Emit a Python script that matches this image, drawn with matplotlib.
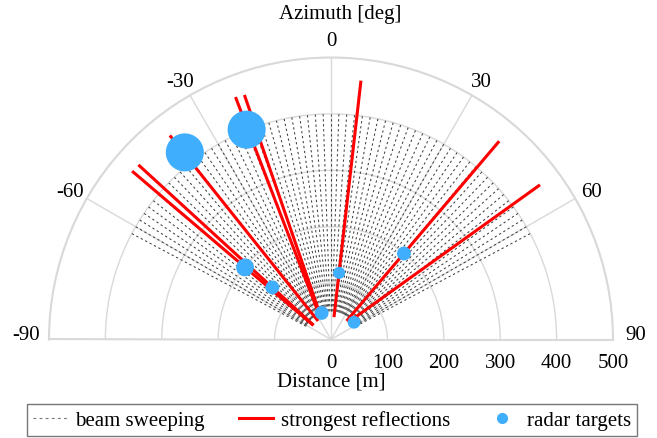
import numpy as np
import matplotlib
matplotlib.use("Agg")
from matplotlib import pyplot as plt
from matplotlib.lines import Line2D

plt.rcParams['font.family'] = ['Liberation Serif', 'DejaVu Serif']
plt.rcParams['font.size'] = 15

# beam sweeping directions (deg) and range (m)
beamAngles = [-62, -60, -58, -56, -54, -52, -50, -48, -46, -44, -42, -40, -38,
              -36, -34, -32, -30, -28, -26, -24, -22, -20, -18, -16, -14, -12,
              -10, -8, -6, -4, -2, 0, 2, 4, 6, 8, 10, 12, 14, 16, 18, 20, 22,
              24, 26, 28, 30, 32, 34, 36, 38, 40, 42, 44, 46, 48, 50, 52, 54,
              56, 58, 60, 62]
beamStart = 50
beamEnd = 400

# strongest reflections: start (angle, dist) -> end (angle, dist)
reflAngleStart = [-51.5, -50.5, -35.0, -26.0, -24.0, 7.6, 40.0, 45.0]
reflDistStart = [40, 40, 40, 44, 44, 40, 43, 43]
reflAngleEnd = [-49.75, -47.8, -38.3, -21.5, -19.5, 6.6, 40.3, 53.5]
reflDistEnd = [462, 461, 461, 462, 460, 462, 461, 461]

# radar targets: angle (deg), distance (m), marker size
targetAngle = [-38.0, -21.9, -50.0, -48.4, -19.4, 6.9, 40.3, 53.2]
targetDist = [421, 401, 199, 139, 50, 119, 200, 51]
targetSize = [750, 750, 165, 100, 100, 75, 100, 85]

thetaTicks = [-90, -60, -30, 0, 30, 60, 90]
rTicks = [0, 100, 200, 300, 400, 500]

fig = plt.figure(figsize=(6.57, 4.39), dpi=100)
# square box; the half disc sits in its middle half
ax = fig.add_axes([49/657, -42.5/439, 564/657, 564/439], projection='polar')
ax.set_theta_zero_location('N')
ax.set_theta_direction(-1)
ax.set_thetamin(-90)
ax.set_thetamax(90)
ax.set_rlim(0, 500)

gridColor = '#d9d9d9'
ax.set_thetagrids(thetaTicks, ['' for t in thetaTicks])
ax.set_rgrids(rTicks, [str(r) for r in rTicks])
ax.grid(True, color=gridColor, linewidth=1.0, linestyle='-')
for sp in ax.spines.values():
    sp.set_color(gridColor)
    sp.set_linewidth(1.5)
ax.tick_params(axis='y', pad=6, labelleft=False, labelright=True)

# azimuth labels sit a fixed distance outside the rim
for t in thetaTicks:
    if abs(t) == 90:
        ax.text(np.deg2rad(t), 541, str(t), ha='center', va='baseline',
                clip_on=False)
    else:
        ax.text(np.deg2rad(t), 534, str(t), ha='center',
                va='center_baseline', clip_on=False)

# beam sweeping
for a in beamAngles:
    ax.plot(np.deg2rad([a, a]), [beamStart, beamEnd], color='#404040',
            linewidth=0.75, dashes=(2.2, 2.6), zorder=2)

# strongest reflections
for i in range(len(reflAngleStart)):
    ax.plot(np.deg2rad([reflAngleStart[i], reflAngleEnd[i]]),
            [reflDistStart[i], reflDistEnd[i]], color='#ff0000',
            linewidth=2.2, solid_capstyle='butt', zorder=3)

# radar targets
ax.scatter(np.deg2rad(targetAngle), targetDist, s=targetSize,
           color='#3faefc', edgecolors='none', zorder=4)

fig.text(340/657, 1-14/439, 'Azimuth [deg]', ha='center', va='center')
fig.text(331/657, 1-382/439, 'Distance [m]', ha='center', va='center')

handles = [Line2D([], [], color='#777777', linewidth=0.8, dashes=(2.5, 3.0)),
           Line2D([], [], color='#ff0000', linewidth=2.2),
           Line2D([], [], color='#3faefc', marker='o', linestyle='none',
                  markersize=7)]
labels = ['beam sweeping', 'strongest reflections', 'radar targets']
leg = fig.legend(handles, labels, loc='upper left', ncol=3, mode='expand',
                 bbox_to_anchor=(27/657, 1-405/439, 610/657, 0.0),
                 frameon=True, fancybox=False, handlelength=1.6,
                 handletextpad=0.4, borderaxespad=0, borderpad=0.3)
leg.get_frame().set_edgecolor('#555555')
leg.get_frame().set_linewidth(1.0)

fig.savefig('out.png', dpi=100)
